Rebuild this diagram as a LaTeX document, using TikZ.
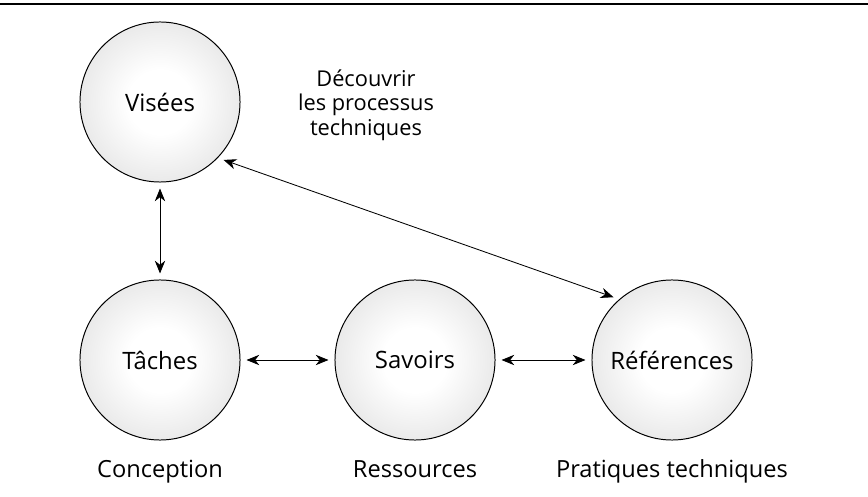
\documentclass[tikz,border=0pt]{standalone}
\usepackage{fontspec}
\setmainfont{Open Sans}
\usetikzlibrary{arrows.meta}

\pgfdeclareradialshading{ballshade}{\pgfpoint{0bp}{0bp}}{color(0bp)=(white); color(10bp)=(white); color(48bp)=(black!21); color(50bp)=(black!21)}

\begin{document}
\begin{tikzpicture}[x=0.025cm,y=-0.025cm,
  ball/.style={circle,draw=black,line width=0.7pt,minimum size=4cm,inner sep=0pt,
    shading=ballshade,font=\fontsize{17}{20}\selectfont},
  lab/.style={font=\fontsize{16.8}{20}\selectfont,align=center,anchor=base},
  link/.style={{Stealth[length=0.32cm,width=0.26cm]}-{Stealth[length=0.32cm,width=0.26cm]},line width=0.6pt,shorten <=0.15cm,shorten >=0.15cm}]

\useasboundingbox (0,0) rectangle (868,497);

\draw [line width=2pt] (0,4) -- (868,4);

\node[ball] (vis) at (160,102) {Visées};
\node[ball] (tac) at (160,360) {Tâches};
\node[ball] (sav) at (415,360) {Savoirs};
\node[ball] (ref) at (672,360) {Références};

\node[font=\fontsize{15.5}{17.5}\selectfont,align=center] (dec) at (366,105) {Découvrir\\les processus\\techniques};

\node[lab] (con) at (160,477) {Conception};
\node[lab] (res) at (415,477) {Ressources};
\node[lab] (pra) at (672,477) {Pratiques techniques};

\draw[link] (vis) -- (tac);
\draw[link] (tac) -- (sav);
\draw[link] (sav) -- (ref);
\draw[link] (vis.-44) -- (ref.131);
\end{tikzpicture}
\end{document}
